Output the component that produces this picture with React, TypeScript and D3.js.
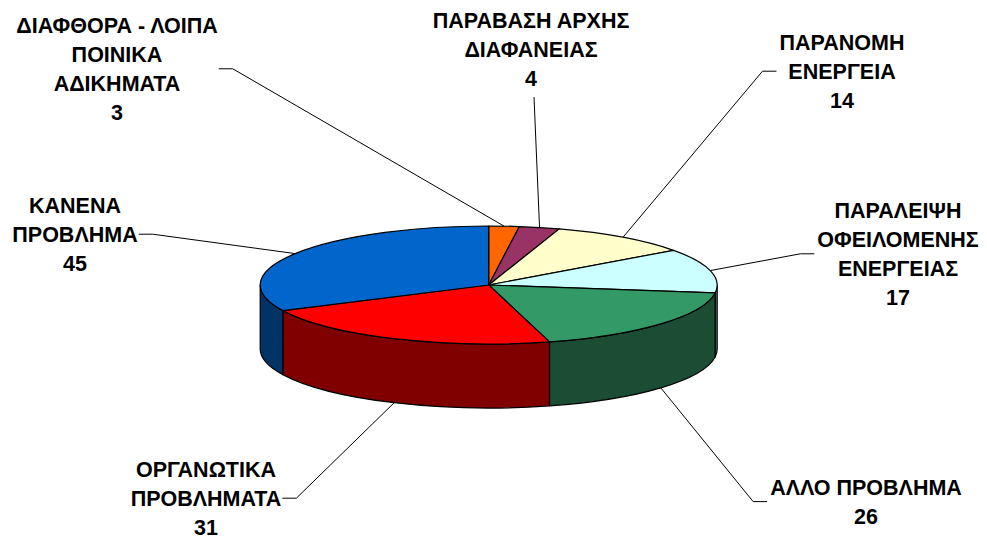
import React, { useEffect, useRef } from 'react';
import * as d3 from 'd3';

// label text (one entry per slice, split into lines) and slice values
const categoryLines: string[][] = [
  ['ΔΙΑΦΘΟΡΑ - ΛΟΙΠΑ', 'ΠΟΙΝΙΚΑ', 'ΑΔΙΚΗΜΑΤΑ'],
  ['ΠΑΡΑΒΑΣΗ ΑΡΧΗΣ', 'ΔΙΑΦΑΝΕΙΑΣ'],
  ['ΠΑΡΑΝΟΜΗ', 'ΕΝΕΡΓΕΙΑ'],
  ['ΠΑΡΑΛΕΙΨΗ', 'ΟΦΕΙΛΟΜΕΝΗΣ', 'ΕΝΕΡΓΕΙΑΣ'],
  ['ΑΛΛΟ ΠΡΟΒΛΗΜΑ'],
  ['ΟΡΓΑΝΩΤΙΚΑ', 'ΠΡΟΒΛΗΜΑΤΑ'],
  ['ΚΑΝΕΝΑ', 'ΠΡΟΒΛΗΜΑ'],
];
const values = [3, 4, 14, 17, 26, 31, 45];

const topColors = ['#FF6600', '#993366', '#FFFFCC', '#CCFFFF', '#339966', '#FF0000', '#0066CC'];
const sideColors = ['#803300', '#4D1A33', '#808066', '#668080', '#1A4D33', '#800000', '#003366'];

// label block placement: centre x, centre y of first line, where the leader attaches
const labelLayout: { x: number; y: number; side: 'left' | 'right' | 'bottom' }[] = [
  { x: 117, y: 25, side: 'right' },
  { x: 531, y: 20, side: 'bottom' },
  { x: 842, y: 42, side: 'left' },
  { x: 898, y: 210, side: 'left' },
  { x: 866, y: 487, side: 'left' },
  { x: 206, y: 469, side: 'right' },
  { x: 75, y: 205, side: 'right' },
];

const W = 987;
const H = 540;

export default function App() {
  const svgRef = useRef<SVGSVGElement>(null);

  useEffect(() => {
    const svg = d3.select(svgRef.current);
    svg.selectAll('*').remove();

    const cx = 488.7, cy = 285, rx = 228.5, ry = 59, depth = 64;
    const fs = 21.5, lineH = 29.2;
    const P = (a: number, dz = 0): [number, number] => [cx + rx * Math.sin(a), cy - ry * Math.cos(a) + dz];

    const arcs = d3.pie<number>().sort(null).value(d => d)(values);

    const gLead = svg.append('g');
    const gPie = svg.append('g');
    const gLab = svg.append('g');

    // labels + leader lines
    arcs.forEach((a, i) => {
      const lay = labelLayout[i];
      const lines = [...categoryLines[i], String(values[i])];
      const t = gLab.append('g');
      lines.forEach((ln, j) => {
        t.append('text')
          .attr('x', lay.x)
          .attr('y', lay.y + j * lineH + fs * 0.36)
          .attr('text-anchor', 'middle')
          .attr('font-family', '"Liberation Sans", Arial, sans-serif')
          .attr('font-weight', 'bold')
          .attr('font-size', fs)
          .attr('fill', '#000')
          .text(ln);
      });
      const bb = (t.node() as SVGGElement).getBBox();
      const midY = lay.y + (lines.length - 1) * lineH / 2;

      const m = (a.startAngle + a.endAngle) / 2;
      const target = Math.cos(m) < 0 ? P(m, depth) : P(m);

      let pts: [number, number][];
      if (lay.side === 'right') {
        const x0 = bb.x + bb.width + 1;
        pts = [[x0, midY], [x0 + 14, midY], target];
      } else if (lay.side === 'left') {
        const x0 = bb.x - 3;
        pts = [[x0, midY], [x0 - 14, midY], target];
      } else {
        pts = [[lay.x + 3, bb.y + bb.height + 6], target];
      }
      gLead.append('path')
        .attr('d', d3.line()(pts))
        .attr('fill', 'none')
        .attr('stroke', '#000')
        .attr('stroke-width', 1);
    });

    // side walls (front half only)
    arcs.forEach((a, i) => {
      const s0 = Math.max(a.startAngle, Math.PI / 2);
      const s1 = Math.min(a.endAngle, 3 * Math.PI / 2);
      if (s1 <= s0) return;
      const p0 = P(s0), p1 = P(s1), q1 = P(s1, depth), q0 = P(s0, depth);
      const d = `M${p0}A${rx},${ry} 0 0 1 ${p1}L${q1}A${rx},${ry} 0 0 0 ${q0}Z`;
      gPie.append('path')
        .attr('d', d)
        .attr('fill', sideColors[i])
        .attr('stroke', '#000')
        .attr('stroke-width', 1.2)
        .attr('stroke-linejoin', 'round');
    });

    // top faces
    arcs.forEach((a, i) => {
      const p0 = P(a.startAngle), p1 = P(a.endAngle);
      const large = a.endAngle - a.startAngle > Math.PI ? 1 : 0;
      const d = `M${cx},${cy}L${p0}A${rx},${ry} 0 ${large} 1 ${p1}Z`;
      gPie.append('path')
        .attr('d', d)
        .attr('fill', topColors[i])
        .attr('stroke', '#000')
        .attr('stroke-width', 1.2)
        .attr('stroke-linejoin', 'round');
    });
  }, []);

  return (
    <div style={{ position: 'absolute', left: 0, top: 0, width: W, height: H, background: '#fff' }}>
      <svg ref={svgRef} width={W} height={H} style={{ display: 'block' }} />
    </div>
  );
}
